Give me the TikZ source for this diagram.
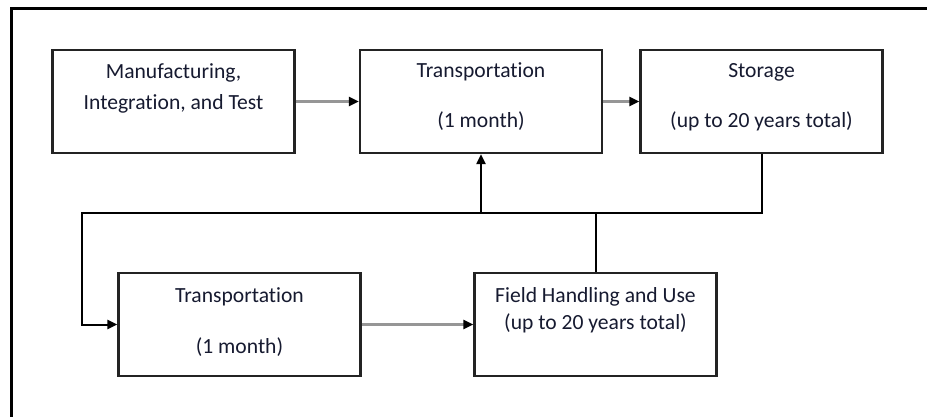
\documentclass[tikz,border=0pt]{standalone}
\usepackage{fontspec}
\setmainfont[Ligatures={NoCommon}]{Carlito}
\usetikzlibrary{arrows.meta}
\definecolor{txt}{RGB}{22,26,48}
\definecolor{conn}{RGB}{150,150,150}
\definecolor{edge}{RGB}{35,35,35}
\begin{document}
\begin{tikzpicture}[x=1pt,y=-1pt,
  box/.style={draw=edge, line width=2.2pt, minimum width=242pt, minimum height=103pt, inner sep=0pt, fill=white},
  lbl/.style={anchor=base, inner sep=0pt, text=txt, font=\fontsize{21.6}{26}\selectfont},
  tip/.style={-{Triangle[length=10pt,width=9pt]}},
  garrow/.style={draw=conn, line width=3pt, -{Triangle[length=10pt,width=9pt,fill=black,color=black]}},
  bline/.style={draw=black, line width=2pt},
  barrow/.style={bline, tip}]
\useasboundingbox (0,0) rectangle (927,417);
\fill[white] (0,0) rectangle (927,417);
% outer frame (top and left)
\draw[line width=3pt] (927,8.5) -- (11.5,8.5) -- (11.5,417);
% boxes
\node[box] (b1) at (173.5,101.5) {};
\node[box] (b2) at (481,101.5) {};
\node[box] (b3) at (761.5,101.5) {};
\node[box] (b4) at (239.5,324.5) {};
\node[box] (b5) at (595.5,324.5) {};
% labels
\node[lbl] (l1a) at (173.5,79) {Manufacturing,};
\node[lbl] (l1b) at (173.5,109.5) {Integration, and Test};
\node[lbl] (l2a) at (481,78) {Transportation};
\node[lbl] (l2b) at (481,128) {(1 month)};
\node[lbl] (l3a) at (761.5,78) {Storage};
\node[lbl] (l3b) at (761.5,128) {(up to 20 years total)};
\node[lbl] (l4a) at (239.5,302) {Transportation};
\node[lbl] (l4b) at (239.5,353) {(1 month)};
\node[lbl] (l5a) at (595.5,302) {Field Handling and Use};
\node[lbl] (l5b) at (595.5,329) {(up to 20 years total)};
% junction coordinates
\coordinate (jl) at (82,213);
% gray connectors
\draw[garrow] (b1.east) -- (b2.west);
\draw[garrow] (b2.east) -- (b3.west);
\draw[garrow] (b4.east) -- (b5.west);
% black connectors
\draw[barrow] (b3.south) |- (jl) |- (b4.west);
\draw[barrow] (b2.south |- jl) -- (b2.south);
\draw[bline] (b5.north) -- (b5.north |- jl);
\end{tikzpicture}
\end{document}
